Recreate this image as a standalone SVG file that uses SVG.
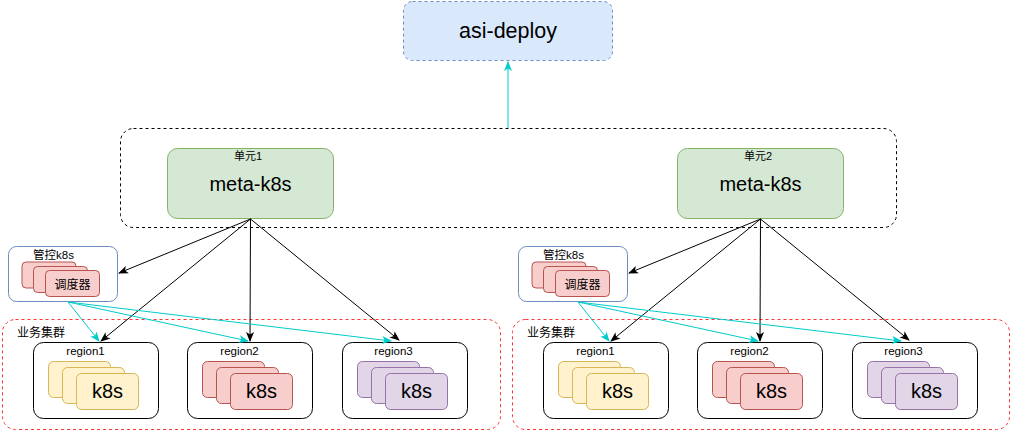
<svg xmlns="http://www.w3.org/2000/svg" width="1011" height="431" viewBox="0 0 1011 431">
<defs>
<style>
text{font-family:"Liberation Sans","Noto Sans CJK SC",Arial,sans-serif;fill:#000}
.c{text-anchor:middle}
.big{font-size:20px}
.sm{font-size:11.5px}
.cont{fill:none;stroke:#000;stroke-dasharray:3 3}
.biz{fill:none;stroke:#FF3333;stroke-dasharray:3 3}
.meta{fill:#d5e8d4;stroke:#82b366}
.mgr{fill:#fff;stroke:#6c8ebf}
.red{fill:#f8cecc;stroke:#b85450}
.yel{fill:#fff2cc;stroke:#d6b656}
.pur{fill:#e1d5e7;stroke:#9673a6}
.reg{fill:#fff;stroke:#000}
.bk{fill:none;stroke:#000;stroke-width:1;marker-end:url(#ab)}
.cy{fill:none;stroke:#00CCCC;stroke-width:1;marker-end:url(#ac)}
</style>
<marker id="ab" viewBox="0 0 10 10" refX="9" refY="5" markerWidth="10" markerHeight="10" markerUnits="userSpaceOnUse" orient="auto"><path d="M0,1 L10,5 L0,9 L2.5,5 Z" fill="#000"/></marker>
<marker id="ac" viewBox="0 0 10 10" refX="9" refY="5" markerWidth="10" markerHeight="10" markerUnits="userSpaceOnUse" orient="auto"><path d="M0,1 L10,5 L0,9 L2.5,5 Z" fill="#00CCCC"/></marker>
</defs>

<g id="asi-deploy">
<rect x="403.5" y="1.5" width="209" height="59" rx="9" fill="#dae8fc" stroke="#6c8ebf" stroke-dasharray="3 3"/>
<text x="508" y="38" class="c" style="font-size:21.5px">asi-deploy</text>
</g>

<g id="unit-container">
<rect x="120.5" y="128.5" width="776" height="99" rx="13" class="cont"/>
</g>

<g id="meta1">
<rect x="167.5" y="148.5" width="166" height="70" rx="10" class="meta"/>
<text x="248" y="160" class="c" style="font-size:11px">单元1</text>
<text x="250.5" y="191" class="c big">meta-k8s</text>
</g>
<g id="meta2">
<rect x="677.5" y="148.5" width="166" height="70" rx="10" class="meta"/>
<text x="758" y="160" class="c" style="font-size:11px">单元2</text>
<text x="760.5" y="191" class="c big">meta-k8s</text>
</g>

<g id="biz1">
<rect x="2.5" y="319.5" width="498" height="110" rx="13" class="biz"/>
<text x="17" y="337" style="font-size:12px">业务集群</text>
</g>
<g id="biz2">
<rect x="512.5" y="319.5" width="497" height="110" rx="13" class="biz"/>
<text x="527" y="337" style="font-size:12px">业务集群</text>
</g>

<g id="mgr1">
<rect x="8.5" y="246.5" width="109" height="55" rx="8" class="mgr"/>
<text x="53.5" y="259" class="c sm">管控k8s</text>
<rect x="22" y="262" width="54" height="26" rx="4" class="red"/>
<rect x="33.5" y="266.5" width="54" height="26" rx="4" class="red"/>
<rect x="45.5" y="270.5" width="54" height="26" rx="4" class="red"/>
<text x="72.5" y="289" class="c" style="font-size:12px">调度器</text>
</g>
<g id="mgr2">
<rect x="518.5" y="246.5" width="109" height="55" rx="8" class="mgr"/>
<text x="563.5" y="259" class="c sm">管控k8s</text>
<rect x="532" y="262" width="54" height="26" rx="4" class="red"/>
<rect x="543.5" y="266.5" width="54" height="26" rx="4" class="red"/>
<rect x="555.5" y="270.5" width="54" height="26" rx="4" class="red"/>
<text x="582.5" y="289" class="c" style="font-size:12px">调度器</text>
</g>

<g id="u1-region1">
<rect x="33.5" y="342.5" width="125" height="76" rx="10" class="reg"/>
<text x="85.5" y="355" class="c sm">region1</text>
<rect x="48.5" y="361.5" width="62" height="36" rx="5" class="yel"/>
<rect x="62.5" y="367.5" width="62" height="36" rx="5" class="yel"/>
<rect x="76.5" y="373.5" width="62" height="36" rx="5" class="yel"/>
<text x="107.5" y="398" class="c big">k8s</text>
</g>
<g id="u1-region2">
<rect x="187.5" y="342.5" width="125" height="76" rx="10" class="reg"/>
<text x="239.5" y="355" class="c sm">region2</text>
<rect x="202.5" y="361.5" width="62" height="36" rx="5" class="red"/>
<rect x="216.5" y="367.5" width="62" height="36" rx="5" class="red"/>
<rect x="230.5" y="373.5" width="62" height="36" rx="5" class="red"/>
<text x="261.5" y="398" class="c big">k8s</text>
</g>
<g id="u1-region3">
<rect x="342.5" y="342.5" width="125" height="76" rx="10" class="reg"/>
<text x="393.5" y="355" class="c sm">region3</text>
<rect x="357.5" y="361.5" width="62" height="36" rx="5" class="pur"/>
<rect x="371.5" y="367.5" width="62" height="36" rx="5" class="pur"/>
<rect x="385.5" y="373.5" width="62" height="36" rx="5" class="pur"/>
<text x="416.5" y="398" class="c big">k8s</text>
</g>

<g id="u2-region1">
<rect x="543.5" y="342.5" width="125" height="76" rx="10" class="reg"/>
<text x="595.5" y="355" class="c sm">region1</text>
<rect x="558.5" y="361.5" width="62" height="36" rx="5" class="yel"/>
<rect x="572.5" y="367.5" width="62" height="36" rx="5" class="yel"/>
<rect x="586.5" y="373.5" width="62" height="36" rx="5" class="yel"/>
<text x="617.5" y="398" class="c big">k8s</text>
</g>
<g id="u2-region2">
<rect x="697.5" y="342.5" width="125" height="76" rx="10" class="reg"/>
<text x="749.5" y="355" class="c sm">region2</text>
<rect x="712.5" y="361.5" width="62" height="36" rx="5" class="red"/>
<rect x="726.5" y="367.5" width="62" height="36" rx="5" class="red"/>
<rect x="740.5" y="373.5" width="62" height="36" rx="5" class="red"/>
<text x="771.5" y="398" class="c big">k8s</text>
</g>
<g id="u2-region3">
<rect x="852.5" y="342.5" width="125" height="76" rx="10" class="reg"/>
<text x="903.5" y="355" class="c sm">region3</text>
<rect x="867.5" y="361.5" width="62" height="36" rx="5" class="pur"/>
<rect x="881.5" y="367.5" width="62" height="36" rx="5" class="pur"/>
<rect x="895.5" y="373.5" width="62" height="36" rx="5" class="pur"/>
<text x="926.5" y="398" class="c big">k8s</text>
</g>

<g id="connectors">
<path class="cy" d="M508,128 L508,62"/>
<path class="bk" d="M250.5,219 L119,273"/>
<path class="bk" d="M250.5,219 L101,341"/>
<path class="bk" d="M250.5,219 L250,341"/>
<path class="bk" d="M250.5,219 L399,340"/>
<path class="cy" d="M68,302 L99,341"/>
<path class="cy" d="M68,302 L248,341"/>
<path class="cy" d="M68,302 L391,341"/>
<path class="bk" d="M760.5,219 L629,273"/>
<path class="bk" d="M760.5,219 L611,341"/>
<path class="bk" d="M760.5,219 L760,341"/>
<path class="bk" d="M760.5,219 L909,340"/>
<path class="cy" d="M578,302 L609,341"/>
<path class="cy" d="M578,302 L758,341"/>
<path class="cy" d="M578,302 L901,341"/>
</g>
</svg>
